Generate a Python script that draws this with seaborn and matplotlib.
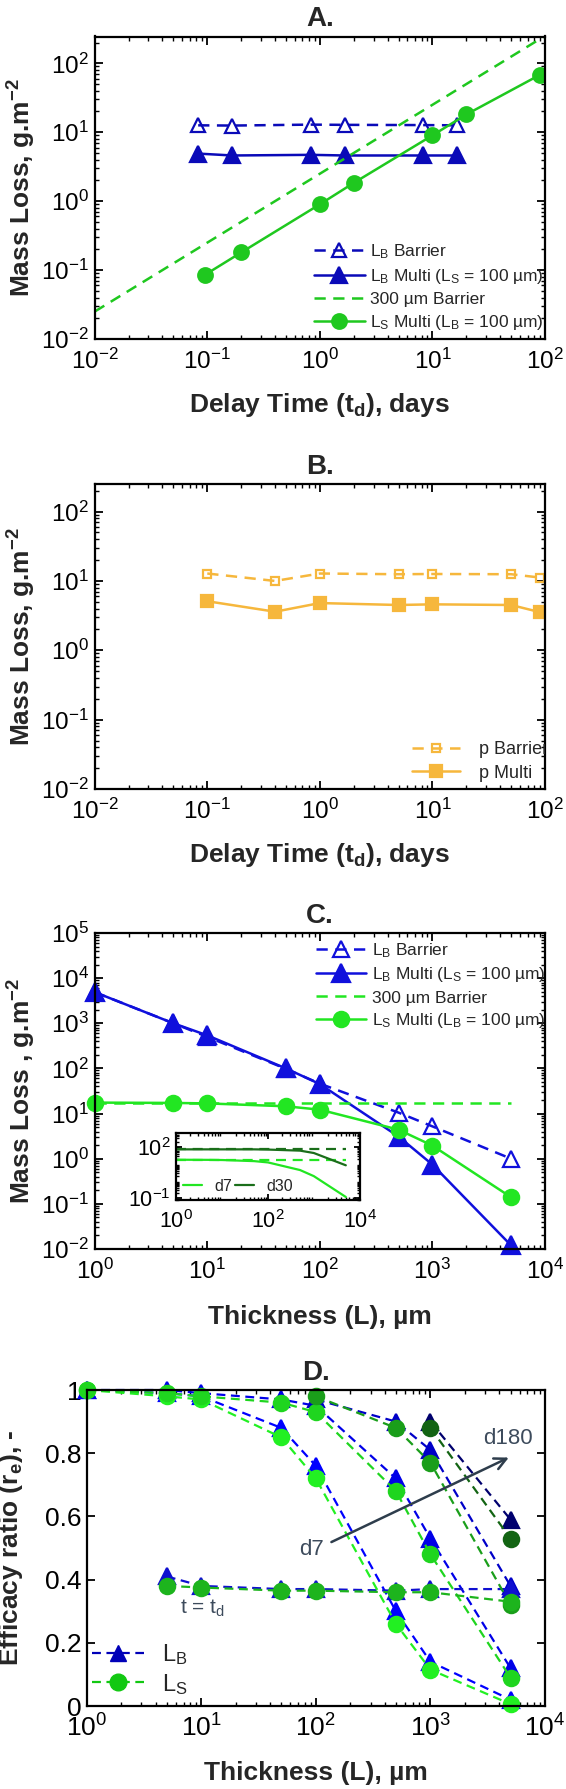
import matplotlib
matplotlib.use("Agg")
import matplotlib.pyplot as plt
from matplotlib.lines import Line2D
from matplotlib.ticker import LogLocator, NullFormatter
import seaborn as sns

# ---- Panel A: mass loss vs delay time
td_lb = [0.083, 0.167, 0.833, 1.67, 8.33, 16.7]
ml_lb_barrier = [12.6, 12.5, 12.9, 12.8, 12.7, 12.6]
ml_lb_multi = [4.9, 4.6, 4.7, 4.6, 4.6, 4.6]
td_300 = [0.01, 0.1, 1, 10, 100]
ml_300_barrier = [0.025, 0.25, 2.5, 25, 250]
td_ls = [0.095, 0.2, 1.0, 2.0, 10, 20, 90]
ml_ls_multi = [0.085, 0.18, 0.9, 1.84, 9.0, 18.1, 68]

# ---- Panel B: p barrier / multi
td_p = [0.1, 0.4, 1, 5, 10, 50, 90]
ml_p_barrier = [12.8, 10.0, 12.8, 12.5, 12.6, 12.5, 11.2]
ml_p_multi = [5.1, 3.6, 4.8, 4.5, 4.6, 4.5, 3.55]

# ---- Panel C: mass loss vs thickness
thick = [1, 5, 10, 50, 100, 500, 1000, 5000]
c_lb_barrier = [4900, 1000, 500, 98, 46, 10.5, 5.2, 1.0]
c_lb_multi = [4900, 1000, 540, 100, 45, 3.1, 0.74, 0.012]
c_300_barrier = [17.2, 17.2, 17.2, 17.2, 17.2, 17.2, 17.2, 17.2]
c_ls_multi = [17.5, 17.2, 16.8, 14.5, 12.2, 4.4, 1.95, 0.14]
# inset (d7 / d30)
ins_d7_barrier = [17.5, 17.5, 17.5, 17.5, 17.5, 17.5, 17.5, 17.5]
ins_d7_multi = [17.5, 17.2, 16.8, 14.5, 12.2, 4.4, 1.95, 0.12]
ins_d30_barrier = [70, 70, 70, 70, 70, 70, 70, 70]
ins_d30_multi = [70, 70, 70, 70, 68, 59, 43, 8.3]

# ---- Panel D: efficacy ratio vs thickness
d7_lb = [1.0, 0.99, 0.98, 0.88, 0.76, 0.30, 0.14, 0.02]
d7_ls = [1.0, 0.98, 0.97, 0.85, 0.72, 0.26, 0.115, 0.006]
d30_lb = [1.0, 1.0, 0.99, 0.97, 0.95, 0.72, 0.53, 0.12]
d30_ls = [1.0, 0.99, 0.98, 0.96, 0.93, 0.68, 0.48, 0.09]
thick_d90 = [100, 500, 1000, 5000]
d90_lb = [0.97, 0.90, 0.81, 0.38]
d90_ls = [0.98, 0.88, 0.77, 0.32]
thick_d180 = [1000, 5000]
d180_lb = [0.90, 0.59]
d180_ls = [0.88, 0.53]
thick_td = [5, 10, 50, 100, 500, 1000, 5000]
td_lb_ratio = [0.41, 0.38, 0.37, 0.37, 0.365, 0.37, 0.37]
td_ls_ratio = [0.38, 0.375, 0.365, 0.365, 0.36, 0.36, 0.33]

sns.set_theme(style="ticks")
plt.rcParams["font.family"] = ["Liberation Sans", "DejaVu Sans"]
plt.rcParams.update({
    "mathtext.fontset": "custom",
    "mathtext.rm": "Liberation Sans",
    "mathtext.it": "Liberation Sans:italic",
    "mathtext.bf": "Liberation Sans:bold",
    "axes.linewidth": 1.6,
    "axes.edgecolor": "black",
    "xtick.direction": "in", "ytick.direction": "in",
    "xtick.top": True, "ytick.right": True,
    "xtick.major.size": 6, "ytick.major.size": 6,
    "xtick.minor.size": 3, "ytick.minor.size": 3,
    "xtick.major.width": 1.3, "ytick.major.width": 1.3,
    "xtick.minor.width": 1.0, "ytick.minor.width": 1.0,
    "xtick.color": "black", "ytick.color": "black",
})

BLUE = "#0a0ab8"
GREEN = "#1fc81f"
ORANGE = "#f6b73c"
DASH = (0, (4.5, 3))
DDASH = (0, (4, 2.5))

LABEL_FS = 19
TICK_FS = 17.5
TITLE_FS = 20


def line(ax, x, y, color, marker=None, ls="-", filled=True, ms=9, label=None, lw=1.8, clip=True):
    sns.lineplot(x=x, y=y, ax=ax, color=color, marker=marker, linestyle=ls,
                 markersize=ms, markerfacecolor=color if filled else "none",
                 markeredgecolor=color, markeredgewidth=1.6, linewidth=lw,
                 label=label, legend=False, clip_on=clip)


def style_log(ax, xlim, ylim, fs=TICK_FS):
    ax.set_xscale("log")
    ax.set_yscale("log")
    ax.set_xlim(*xlim)
    ax.set_ylim(*ylim)
    for axis in (ax.xaxis, ax.yaxis):
        axis.set_major_locator(LogLocator(base=10, numticks=12))
        axis.set_minor_locator(LogLocator(base=10, subs=range(2, 10), numticks=12))
        axis.set_minor_formatter(NullFormatter())
    ax.tick_params(labelsize=fs, which="both")
    ax.tick_params(axis="x", pad=7)
    ax.tick_params(axis="y", pad=4)


def labels(ax, title, xlab, ylab, xl_y, yl_x):
    ax.set_title(title, fontsize=TITLE_FS, fontweight="bold", pad=7.5)
    ax.set_xlabel(xlab, fontsize=LABEL_FS, fontweight="bold")
    ax.set_ylabel(ylab, fontsize=LABEL_FS, fontweight="bold")
    ax.xaxis.label.set_verticalalignment("center")
    ax.yaxis.label.set_verticalalignment("center")
    ax.xaxis.set_label_coords(0.5, xl_y)
    ax.yaxis.set_label_coords(yl_x, 0.5)


H = 1789.0
Wpx = 566.0


def rect(left, right, top, bottom):
    return [left / Wpx, 1 - bottom / H, (right - left) / Wpx, (bottom - top) / H]


fig = plt.figure(figsize=(5.66, 17.89), dpi=100)
axA = fig.add_axes(rect(94.7, 545, 36.5, 339))
axB = fig.add_axes(rect(94.7, 545, 484, 789))
axC = fig.add_axes(rect(94.7, 545, 933, 1249))
axD = fig.add_axes(rect(86.7, 545, 1390, 1706))

ylab = r"Mass Loss, g.m$^{\mathbf{-2}}$"
xlab_t = r"Delay Time (t$_{\mathbf{d}}$), days"
xlab_L = r"Thickness (L), µm"

# A
line(axA, td_lb, ml_lb_barrier, BLUE, "^", DASH, False, 10, r"L$_{\mathregular{B}}$ Barrier")
line(axA, td_lb, ml_lb_multi, BLUE, "^", "-", True, 12, r"L$_{\mathregular{B}}$ Multi (L$_{\mathregular{S}}$ = 100 µm)")
line(axA, td_300, ml_300_barrier, GREEN, None, DASH, True, 9, "300 µm Barrier")
line(axA, td_ls, ml_ls_multi, GREEN, "o", "-", True, 10.5, r"L$_{\mathregular{S}}$ Multi (L$_{\mathregular{B}}$ = 100 µm)")
style_log(axA, (1e-2, 1e2), (1e-2, 245))
labels(axA, "A.", xlab_t, ylab, -0.218, -0.162)
axA.legend(loc="lower left", bbox_to_anchor=(0.472, 0.0), frameon=False, fontsize=12.5,
           handlelength=2.9, labelspacing=0.34, borderaxespad=0.0, handletextpad=0.3)

# B
line(axB, td_p, ml_p_barrier, ORANGE, "s", DASH, False, 6, "p Barrier")
line(axB, td_p, ml_p_multi, ORANGE, "s", "-", True, 8.5, "p Multi")
style_log(axB, (1e-2, 1e2), (1e-2, 250))
labels(axB, "B.", xlab_t, ylab, -0.217, -0.162)
legB = axB.legend(loc="lower left", bbox_to_anchor=(0.688, 0.0), frameon=False, fontsize=13,
                  handlelength=2.7, labelspacing=0.35, borderaxespad=0.0, handletextpad=1.0)
for t in legB.get_texts():
    t.set_clip_box(axB.bbox)
    t.set_clip_on(True)

# C
CBLUE = "#1010dc"
CGREEN = "#22e622"
line(axC, thick, c_lb_barrier, CBLUE, "^", DASH, False, 11, r"L$_{\mathregular{B}}$ Barrier", clip=False)
line(axC, thick, c_lb_multi, CBLUE, "^", "-", True, 13, r"L$_{\mathregular{B}}$ Multi (L$_{\mathregular{S}}$ = 100 µm)", clip=False)
line(axC, thick, c_300_barrier, CGREEN, None, DASH, True, 9, "300 µm Barrier")
line(axC, thick, c_ls_multi, CGREEN, "o", "-", True, 11, r"L$_{\mathregular{S}}$ Multi (L$_{\mathregular{B}}$ = 100 µm)", clip=False)
style_log(axC, (1, 1e4), (1e-2, 1e5))
labels(axC, "C.", xlab_L, r"Mass Loss , g.m$^{\mathbf{-2}}$", -0.214, -0.162)
axC.legend(loc="upper left", bbox_to_anchor=(0.476, 0.997), frameon=False, fontsize=12.5,
           handlelength=2.9, labelspacing=0.34, borderaxespad=0.0, handletextpad=0.3)

# C inset
axI = fig.add_axes(rect(176.4, 359.6, 1132.7, 1200))
DKGREEN = "#1a6e1a"
line(axI, thick, ins_d7_barrier, CGREEN, None, DASH, lw=1.6)
line(axI, thick, ins_d7_multi, CGREEN, None, "-", lw=1.6)
line(axI, thick, ins_d30_barrier, DKGREEN, None, DASH, lw=1.6)
line(axI, thick, ins_d30_multi, DKGREEN, None, "-", lw=1.6)
style_log(axI, (1, 1e4), (0.08, 650), fs=15.5)
axI.set_xticks([1, 1e2, 1e4])
axI.set_yticks([0.1, 100])
axI.tick_params(which="major", length=4)
axI.tick_params(which="minor", length=2)
axI.tick_params(axis="x", pad=7)
axI.set_xlabel("")
axI.set_ylabel("")
ins_handles = [Line2D([], [], color=CGREEN, ls="-", lw=1.6),
               Line2D([], [], color=DKGREEN, ls="-", lw=1.6)]
axI.legend(ins_handles, ["d7", "d30"], loc="lower left", ncol=2, frameon=False,
           fontsize=11.5, handlelength=1.2, handletextpad=0.75, columnspacing=0.2,
           borderaxespad=0.0)

# D
d_styles = [
    (thick, d7_lb, d7_ls, "#0000ff", "#22f022"),
    (thick, d30_lb, d30_ls, "#0000e8", "#1fd51f"),
    (thick_d90, d90_lb, d90_ls, "#0000c8", "#1a9e1a"),
    (thick_d180, d180_lb, d180_ls, "#00006e", "#136413"),
    (thick_td, td_lb_ratio, td_ls_ratio, "#0f0fd0", "#1db41d"),
]
for xs, lb, ls_, cb, cg in d_styles:
    line(axD, xs, lb, cb, "^", DDASH, True, 11, lw=1.6, clip=False)
for xs, lb, ls_, cb, cg in d_styles:
    line(axD, xs, ls_, cg, "o", DDASH, True, 11, lw=1.6, clip=False)
axD.set_xscale("log")
axD.set_xlim(1, 1e4)
axD.set_ylim(0, 1)
axD.xaxis.set_major_locator(LogLocator(base=10, numticks=12))
axD.xaxis.set_minor_locator(LogLocator(base=10, subs=range(2, 10), numticks=12))
axD.xaxis.set_minor_formatter(NullFormatter())
axD.set_yticks([0, 0.2, 0.4, 0.6, 0.8, 1.0])
axD.set_yticklabels(["0", "0.2", "0.4", "0.6", "0.8", "1"])
axD.tick_params(labelsize=19, which="both")
axD.tick_params(axis="x", pad=6)
axD.tick_params(axis="y", pad=4)
labels(axD, "D.", xlab_L, r"Efficacy ratio (r$_{\mathbf{e}}$), -", -0.212, -0.166)
axD.annotate("", xy=(5080, 0.79), xytext=(130, 0.515),
             arrowprops=dict(arrowstyle="->,head_length=0.7,head_width=0.35",
                             color="#2e3d4c", lw=1.8))
axD.text(118, 0.494, "d7", fontsize=16, color="#3d4b5c", ha="right", va="center")
axD.text(4730, 0.845, "d180", fontsize=16, color="#3d4b5c", ha="center", va="center")
axD.text(6.5, 0.31, r"t = t$_{\mathregular{d}}$", fontsize=15, color="#3d4b5c",
         ha="left", va="center")
d_handles = [Line2D([], [], color="#0000b8", ls=DDASH, marker="^", ms=12, lw=1.6),
             Line2D([], [], color="#12c812", ls=DDASH, marker="o", ms=12, lw=1.6)]
axD.legend(d_handles, [r"L$_{\mathregular{B}}$", r"L$_{\mathregular{S}}$"],
           loc="lower left", bbox_to_anchor=(-0.009, 0.0), frameon=False, fontsize=17,
           handlelength=2.2, labelspacing=0.2, borderaxespad=0.0, handletextpad=0.76)

fig.savefig("out.png", dpi=100)
